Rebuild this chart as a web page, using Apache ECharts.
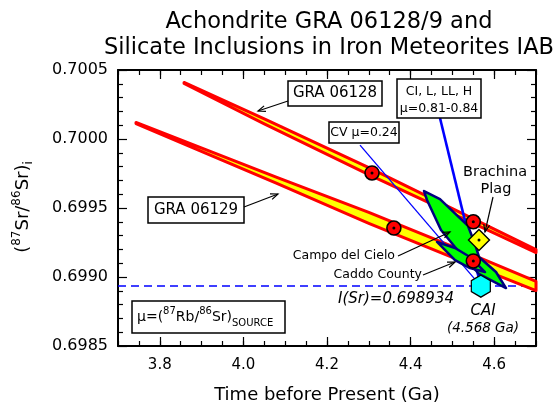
<!DOCTYPE html>
<html><head><meta charset="utf-8">
<script src="https://cdn.jsdelivr.net/npm/echarts@6/dist/echarts.min.js"></script>
<style>html,body{margin:0;padding:0;background:#fff}#c{width:559px;height:408px}</style>
</head><body><div id="c"></div>
<script>
// ---- data ----
const xTickLabels = [3.8, 4.0, 4.2, 4.4, 4.6];
const yTickLabels = [0.6985, 0.6990, 0.6995, 0.7000, 0.7005];
const iSr = 0.698934;
const gra06128Upper = [[3.858,0.700410],[4.05,0.700146],[4.30,0.699792],[4.50,0.699495],[4.70,0.699199]];
const gra06128Lower = [[3.858,0.700402],[4.05,0.700110],[4.30,0.699742],[4.50,0.699459],[4.70,0.699177]];
const gra06129Upper = [[3.743,0.700120],[4.08,0.699722],[4.30,0.699469],[4.50,0.699222],[4.70,0.698968]];
const gra06129Lower = [[3.743,0.700112],[4.08,0.699678],[4.30,0.699389],[4.50,0.699142],[4.70,0.698902]];
const campoDelCielo = [[4.4321,0.699623],[4.4703,0.699565],[4.5373,0.699370],[4.5541,0.699239],[4.5636,0.699145],[4.6043,0.699036],[4.6282,0.698920],[4.5636,0.699022],[4.5421,0.699094],[4.5062,0.699217],[4.4727,0.699341],[4.4392,0.699558]];
const caddoCounty = [[4.4632,0.699254],[4.5062,0.699210],[4.5421,0.699145],[4.578,0.699036],[4.5421,0.699065],[4.5062,0.699123]];
const cvLine = [[4.279,0.699956],[4.568,0.698934]];
const ciLine = [[4.4703,0.700152],[4.568,0.698934]];
const dataPoints = [[4.3077,0.699754],[4.360,0.699355],[4.550,0.699400],[4.550,0.699116]];
const brachinaPlag = [[4.5636,0.699268]];
const cai = [[4.568,0.698934]];

const FF = 'DejaVu Sans';
function polySeries(points, fill, stroke, lw, z){
  return {type:'custom', z:z, silent:true, xAxisIndex:0, yAxisIndex:0, data:[points[0]],
    encode:{x:0,y:1},
    renderItem:function(params, api){
      if(params.dataIndex!==0) return null;
      return {type:'polygon', shape:{points: points.map(p=>api.coord(p))},
        style:{fill:fill, stroke:stroke, lineWidth:lw, lineJoin:'round'}};
    }};
}
function band(upper, lower){ return upper.concat(lower.slice().reverse()); }

function txt(x,y,text,size,opts){
  return Object.assign({type:'text', z:100, x:x, y:y, style:Object.assign({text:text, fontSize:size, fontFamily:FF, fill:'#000', align:'center', verticalAlign:'middle'}, opts||{})});
}
function box(x,y,w,h){
  return {type:'rect', z:99, shape:{x:x,y:y,width:w,height:h}, style:{fill:'#fff', stroke:'#000', lineWidth:1.5}};
}
function arrow(x1,y1,x2,y2){
  const a=Math.atan2(y2-y1,x2-x1), L=8, w=0.38;
  const p1=[x2-L*Math.cos(a-w), y2-L*Math.sin(a-w)], p2=[x2-L*Math.cos(a+w), y2-L*Math.sin(a+w)];
  return [{type:'line', z:100, shape:{x1:x1,y1:y1,x2:x2,y2:y2}, style:{stroke:'#000', lineWidth:1.2}},
          {type:'polyline', z:100, shape:{points:[p1,[x2,y2],p2]}, style:{stroke:'#000', lineWidth:1.2, fill:null}}];
}
const isMajorX = v => Math.abs(v*5 - Math.round(v*5)) < 1e-6;

const baseX = {type:'value', min:3.7, max:4.7, splitLine:{show:false}};
const baseY = {type:'value', min:0.6985, max:0.7005, interval:0.0005, splitLine:{show:false}};
const lineBlack = {show:true, lineStyle:{color:'#000', width:2}};

const chart = echarts.init(document.getElementById('c'), null, {renderer:'canvas'});
chart.setOption({
  animation:false,
  grid:{left:118, right:23, top:70, bottom:62},
  xAxis:[
    Object.assign({}, baseX, {position:'bottom', interval:0.05, axisLine:lineBlack,
      axisTick:{inside:true, length:5, lineStyle:{color:'#000', width:1.2}},
      axisLabel:{margin:12, fontSize:15, fontFamily:FF, color:'#000', formatter:v=> isMajorX(v)? v.toFixed(1):''}}),
    Object.assign({}, baseX, {position:'bottom', axisLine:{show:false},
      axisTick:{inside:true, length:9, customValues:xTickLabels, lineStyle:{color:'#000', width:1.2}},
      axisLabel:{show:false}}),
    Object.assign({}, baseX, {position:'top', interval:0.05, axisLine:lineBlack,
      axisTick:{inside:true, length:5, lineStyle:{color:'#000', width:1.2}}, axisLabel:{show:false}}),
    Object.assign({}, baseX, {position:'top', axisLine:{show:false},
      axisTick:{inside:true, length:9, customValues:xTickLabels, lineStyle:{color:'#000', width:1.2}},
      axisLabel:{show:false}})
  ],
  yAxis:[
    Object.assign({}, baseY, {position:'left', axisLine:lineBlack,
      axisTick:{inside:true, length:9, lineStyle:{color:'#000', width:1.2}},
      minorTick:{show:true, splitNumber:5, length:5, lineStyle:{color:'#000', width:1.2}},
      axisLabel:{margin:10, fontSize:16, fontFamily:FF, color:'#000', formatter:v=>v.toFixed(4)}}),
    Object.assign({}, baseY, {position:'right', axisLine:lineBlack,
      axisTick:{inside:true, length:9, lineStyle:{color:'#000', width:1.2}},
      minorTick:{show:true, splitNumber:5, length:5, lineStyle:{color:'#000', width:1.2}},
      axisLabel:{show:false}})
  ],
  series:[
    {type:'line', z:1, silent:true, data:[[3.7,iSr],[4.7,iSr]], symbol:'none',
      lineStyle:{color:'#0000ff', width:1.5, type:[8,5]}},
    polySeries(band(gra06128Upper, gra06128Lower), '#ffff00', '#ff0000', 3, 2),
    polySeries(band(gra06129Upper, gra06129Lower), '#ffff00', '#ff0000', 3, 2),
    {type:'line', z:3, silent:true, data:cvLine, symbol:'none', lineStyle:{color:'#0000ff', width:1.3}},
    {type:'line', z:3, silent:true, data:ciLine, symbol:'none', lineStyle:{color:'#0000ff', width:2.6}},
    polySeries(campoDelCielo, '#00ff00', '#000080', 2.5, 4),
    polySeries(caddoCounty, '#00ff00', '#000080', 2.5, 4),
    {type:'scatter', z:5, silent:true, data:cai, symbol:'path://M0,-10L8.66,-5L8.66,5L0,10L-8.66,5L-8.66,-5Z',
      symbolSize:[19,22], symbolKeepAspect:false, itemStyle:{color:'#00ffff', borderColor:'#000', borderWidth:1.3, opacity:1}},
    {type:'scatter', z:6, silent:true, data:dataPoints, symbol:'circle', symbolSize:14,
      itemStyle:{color:'#ff0000', borderColor:'#000', borderWidth:1.6, opacity:1}},
    {type:'scatter', z:6, silent:true, data:brachinaPlag, symbol:'diamond', symbolSize:21,
      itemStyle:{color:'#ffff00', borderColor:'#000', borderWidth:1.4, opacity:1}},
    {type:'scatter', z:7, silent:true, data:dataPoints.concat(brachinaPlag), symbol:'circle', symbolSize:3,
      itemStyle:{color:'#000', opacity:1}}
  ],
  graphic:{elements:[].concat(
    [txt(329,22,'Achondrite GRA 06128/9 and',22.5),
     txt(329,48,'Silicate Inclusions in Iron Meteorites IAB',22.5),
     txt(327,395,'Time before Present (Ga)',18),
     Object.assign(txt(23,207,'{m|(}{sup|87}{m|Sr/}{sup|86}{m|Sr)}{sub|i}',18,{rich:{
        m:{fontSize:18, fontFamily:FF, lineHeight:24, verticalAlign:'middle'},
        sup:{fontSize:12, fontFamily:FF, lineHeight:24, verticalAlign:'top'},
        sub:{fontSize:12, fontFamily:FF, lineHeight:24, verticalAlign:'bottom'}}}), {rotation:Math.PI/2}),
     box(288,81,94,25), txt(335,93.5,'GRA 06128',15),
     box(148,197,96,26), txt(196,210,'GRA 06129',15),
     box(329,122,70,21), txt(364,132.5,'CV μ=0.24',12.5),
     box(397,79,84,39), txt(439,91.5,'CI, L, LL, H',12.5), txt(439,109,'μ=0.81-0.84',12.5),
     txt(495,172,'Brachina',14.5), txt(496,189,'Plag',14.5),
     txt(395,256,'Campo del Cielo',12.5,{align:'right'}),
     txt(422,275,'Caddo County',12.5,{align:'right'}),
     txt(396,299,'I(Sr)=0.698934',15,{fontStyle:'italic'}),
     txt(483,311,'CAI',15,{fontStyle:'italic'}),
     txt(483,328,'(4.568 Ga)',13.5,{fontStyle:'italic'}),
     box(132,301,153,32),
     txt(137,317,'{m|μ=(}{sup|87}{m|Rb/}{sup|86}{m|Sr)}{sub|SOURCE}',14,{align:'left', rich:{
        m:{fontSize:14, fontFamily:FF, lineHeight:22, verticalAlign:'middle'},
        sup:{fontSize:10, fontFamily:FF, lineHeight:22, verticalAlign:'top'},
        sub:{fontSize:10, fontFamily:FF, lineHeight:22, verticalAlign:'bottom'}}})
    ],
    arrow(288,101,258,111),
    arrow(244,207,278,194),
    arrow(493,197,485,232),
    arrow(398,256,450,232),
    arrow(423,275,455,262)
  )}
});
</script></body></html>
